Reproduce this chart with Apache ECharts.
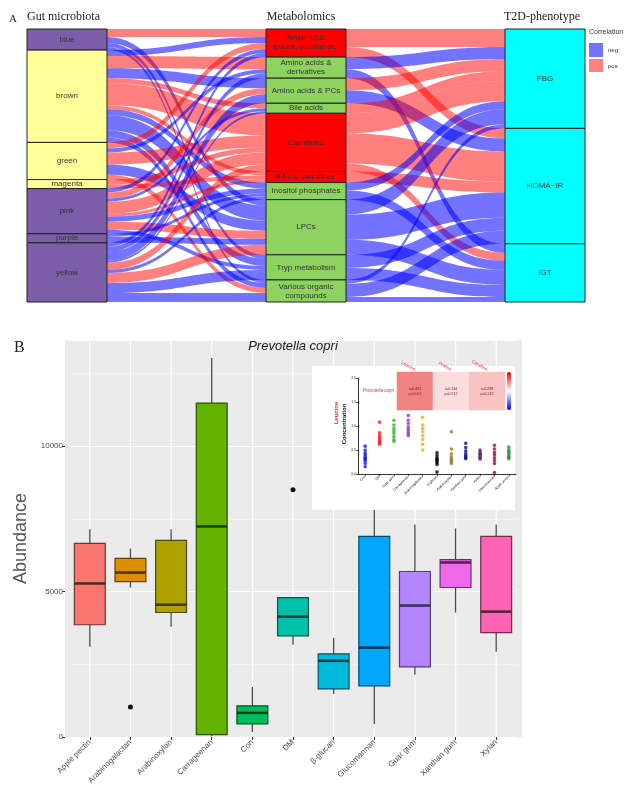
<!DOCTYPE html>
<html><head><meta charset="utf-8">
<script src="https://cdn.jsdelivr.net/npm/echarts@6.0.0/dist/echarts.min.js"></script>
<style>html,body{margin:0;padding:0;background:#fff}#c{width:632px;height:794px}</style>
</head><body><div id="c"></div>
<script>
// ---------- Panel A data (alluvial) ----------
const microbiotaModules = ['blue','brown','green','magenta','pink','purple','yellow'];
const moduleIsPurple = [1,0,0,0,1,1,1];
const metaboliteClasses = ['Amino acids\nleucine, citrulline etc.','Amino acids &\nderivatives','Amino acids & PCs','Bile acids','Carnitines','FAs & carnitines','Inositol phosphates','LPCs','Tryp metabolism','Various organic\ncompounds'];
const metaboliteIsRed = [1,0,0,0,1,1,0,0,0,0];
const phenotypes = ['FBG','HOMA\u2212IR','IGT'];
// [module, metabolite class, weight, correlation]
const microbeMetaboliteLinks = [
 [0,0,8,'pos'],[0,7,6,'neg'],[0,8,4,'neg'],[0,9,3,'neg'],
 [1,0,6,'neg'],[1,1,12,'pos'],[1,2,10,'neg'],[1,3,5,'pos'],[1,4,22,'pos'],[1,5,4,'pos'],[1,6,6,'neg'],[1,7,15,'neg'],[1,8,7,'neg'],[1,9,5,'neg'],
 [2,0,6,'pos'],[2,1,4,'neg'],[2,4,12,'pos'],[2,7,10,'neg'],[2,9,5,'pos'],
 [3,4,5,'pos'],[3,5,4,'pos'],
 [4,0,4,'neg'],[4,2,6,'pos'],[4,3,3,'neg'],[4,4,12,'pos'],[4,5,3,'pos'],[4,6,5,'neg'],[4,7,8,'pos'],[4,8,4,'neg'],
 [5,6,3,'neg'],[5,7,6,'neg'],
 [6,0,4,'neg'],[6,1,5,'neg'],[6,2,9,'neg'],[6,3,2,'neg'],[6,4,7,'pos'],[6,6,3,'neg'],[6,7,10,'pos'],[6,8,10,'neg'],[6,9,9,'neg']
];
// [metabolite class, phenotype, weight, correlation]
const metabolitePhenotypeLinks = [
 [0,0,18,'pos'],[0,1,10,'pos'],
 [1,0,12,'neg'],[1,2,9,'neg'],
 [2,0,12,'pos'],[2,1,13,'neg'],
 [3,0,10,'pos'],
 [4,0,20,'pos'],[4,1,30,'pos'],[4,2,8,'pos'],
 [5,1,11,'pos'],
 [6,0,8,'neg'],[6,2,9,'neg'],
 [7,0,15,'neg'],[7,1,25,'neg'],[7,2,15,'neg'],
 [8,1,13,'neg'],[8,2,12,'neg'],
 [9,0,4,'neg'],[9,1,13,'neg'],[9,2,5,'neg']
];

// ---------- Panel B data (box plot) ----------
const fiberGroups = ['Apple pectin','Arabinogalactan','Arabinoxylan','Carrageenan','Con','DM','\u03b2-glucan','Glucomannan','Guar gum','Xanthan gum','Xylan'];
const fiberColors = ['#F8766D','#DB8E00','#AEA200','#64B200','#00BD5C','#00C1A7','#00BADE','#00A6FF','#B385FF','#EF67EB','#FF63B6'];
const whiskerLow  = [3100, 5140, 3790,    30,  170, 3170, 1480,  450, 2140, 4280, 2930];
const quartile1   = [3860, 5345, 4280,    80,  450, 3480, 1655, 1760, 2410, 5140, 3590];
const medians     = [5280, 5655, 4550,  7240,  830, 4140, 2620, 3070, 4520, 6000, 4310];
const quartile3   = [6660, 6140, 6760, 11480, 1070, 4790, 2860, 6900, 5690, 6100, 6900];
const whiskerHigh = [7140, 6480, 7140, 13030, 1720, 4790, 3410, 8700, 7310, 7170, 7310];
const outlierGroup = [1, 5];
const outlierValue = [1030, 8500];
const starGroup = [4, 6];
const starValue = [2040, 3720];
const starText = ['**', '*'];
const yTicksB = [0, 5000, 10000];

// ---------- Inset data ----------
const heatMetabolites = ['Leucine','Proline','Citrulline'];
const heatR = [0.491, 0.134, 0.238];
const heatP = [0.007, 0.512, 0.242];
const insetGroups = ['Con','DM','Guar gum','Carrageenan','Arabinogalactan','\u03b2-glucan','Arabinoxylan','Xanthan gum','Xylan','Glucomannan','Apple pectin'];
const insetColors = ['#1A1AE6','#FF1A1A','#2DB82D','#9B30D0','#F5A623','#000000','#9C7C2A','#0A0A8C','#6A1A6A','#A0102A','#1E8C3A'];
const leucineByGroup = [
 [0.58,0.5,0.44,0.4,0.36,0.33,0.3,0.27,0.22,0.15],
 [1.08,0.86,0.8,0.76,0.72,0.68,0.65,0.62],
 [1.12,1.02,0.95,0.9,0.85,0.78,0.72,0.68],
 [1.22,1.12,1.05,0.98,0.93,0.88,0.84,0.8],
 [1.18,1.02,0.95,0.88,0.8,0.72,0.62,0.5],
 [0.44,0.38,0.33,0.3,0.27,0.24,0.2,0.04],
 [0.88,0.52,0.42,0.36,0.32,0.28,0.25,0.22],
 [0.64,0.55,0.48,0.42,0.38,0.35,0.32],
 [0.5,0.46,0.42,0.4,0.37,0.34,0.31],
 [0.6,0.52,0.45,0.4,0.34,0.28,0.22,0.03],
 [0.56,0.5,0.46,0.42,0.38,0.35,0.32]
];
const insetStarText = ['***','**','','','','***','*','*','***','***','*'];
const insetStarValue = [0.73,1.16,0,0,0,0.62,1.0,0.77,0.6,0.7,0.82];

// ---------- build ----------
const chart = echarts.init(document.getElementById('c'));
const SERIF = 'Liberation Serif', SANS = 'Liberation Sans';
const shade = (hex, f) => { const c = echarts.color.parse(hex); return 'rgb(' + Math.round(c[0] * f) + ',' + Math.round(c[1] * f) + ',' + Math.round(c[2] * f) + ')'; };
const linkStyle = s => ({color: s === 'neg' ? '#0000FF' : '#FF0000', opacity: s === 'neg' ? 0.55 : 0.5});
const sankeyNodes = [];
microbiotaModules.forEach((n, i) => sankeyNodes.push({name: n, itemStyle: {color: moduleIsPurple[i] ? '#7B5EA7' : '#FFFF99'}}));
metaboliteClasses.forEach((n, i) => sankeyNodes.push({name: n, itemStyle: {color: metaboliteIsRed[i] ? '#FF0000' : '#8ED35F'},
  label: i === 0 ? {fontSize: 7} : undefined}));
phenotypes.forEach(n => sankeyNodes.push({name: n, itemStyle: {color: '#00FFFF'}}));
const sankeyLinks = microbeMetaboliteLinks.map(l => ({source: microbiotaModules[l[0]], target: metaboliteClasses[l[1]], value: l[2], lineStyle: linkStyle(l[3])}))
  .concat(metabolitePhenotypeLinks.map(l => ({source: metaboliteClasses[l[0]], target: phenotypes[l[1]], value: l[2], lineStyle: linkStyle(l[3])})));

const boxData = fiberGroups.map((g, i) => [i, whiskerLow[i], quartile1[i], medians[i], quartile3[i], whiskerHigh[i]]);

const insetPoints = [];
leucineByGroup.forEach((arr, g) => arr.forEach(v => insetPoints.push({value: [g, v], itemStyle: {color: insetColors[g]}})));
const insetStars = [];
insetStarText.forEach((t, g) => { if (t) insetStars.push({value: [g, insetStarValue[g]], label: {formatter: t, color: insetColors[g]}}); });

const option = {
  animation: false,
  textStyle: {fontFamily: SANS},
  grid: [
    {left: 69.5, top: 340, width: 447, height: 397, outerBoundsMode: 'none'},
    {left: 358, top: 378, width: 158, height: 96, outerBoundsMode: 'none'},
    {left: 397, top: 372, width: 108, height: 38, outerBoundsMode: 'none'}
  ],
  xAxis: [
    {gridIndex: 0, type: 'category', data: fiberGroups, boundaryGap: true,
     axisLine: {show: false}, axisTick: {show: true, alignWithLabel: true, length: 3, lineStyle: {color: '#333'}},
     axisLabel: {rotate: 45, fontSize: 8, color: '#4D4D4D', margin: 4, interval: 0},
     splitLine: {show: false}},
    {gridIndex: 1, type: 'category', data: insetGroups, boundaryGap: true, z: 5,
     axisLine: {show: true, lineStyle: {color: '#000', width: 0.8}},
     axisTick: {show: true, alignWithLabel: true, length: 2, lineStyle: {color: '#000', width: 0.6}},
     axisLabel: {rotate: 45, fontSize: 3.5, color: '#222', margin: 2, interval: 0}},
    {gridIndex: 2, type: 'category', data: heatMetabolites, position: 'top', z: 5,
     axisLine: {show: false}, axisTick: {show: false},
     axisLabel: {rotate: 30, fontSize: 4.5, color: '#E03030', margin: 2}}
  ],
  yAxis: [
    {gridIndex: 0, type: 'value', min: 0, max: 13650, interval: 5000, offset: 4.5,
     name: 'Abundance', nameLocation: 'middle', nameGap: 34, nameTextStyle: {fontSize: 18, color: '#555'},
     axisLine: {show: false}, axisTick: {show: true, length: 3, lineStyle: {color: '#333'}},
     axisLabel: {fontSize: 8, color: '#4D4D4D', margin: 2, showMaxLabel: false,
       formatter: v => yTicksB.indexOf(v) >= 0 ? String(v) : ''},
     splitLine: {show: true, lineStyle: {color: '#FFFFFF', width: 1.2}},
     minorTick: {show: false, splitNumber: 2},
     minorSplitLine: {show: true, lineStyle: {color: '#F7F7F7', width: 0.6}}},
    {gridIndex: 1, type: 'value', min: 0, max: 2, interval: 0.5, z: 5,
     axisLine: {show: true, lineStyle: {color: '#000', width: 0.8}},
     axisTick: {show: true, length: 2, lineStyle: {color: '#000', width: 0.6}},
     axisLabel: {fontSize: 3.5, color: '#222', margin: 2, formatter: v => v.toFixed(1)},
     splitLine: {show: false}},
    {gridIndex: 2, type: 'category', data: ['Prevotella copri'], z: 5,
     axisLine: {show: false}, axisTick: {show: false},
     axisLabel: {fontSize: 4.5, color: '#E03030', margin: 3}}
  ],
  visualMap: {type: 'continuous', seriesIndex: 6, dimension: 2, min: -1, max: 1,
    inRange: {color: ['#0000FF', '#FFFFFF', '#E00000']},
    left: 507, top: 372, itemWidth: 4, itemHeight: 38, padding: 0, calculable: false, show: true, z: 6},
  series: [
    {type: 'sankey', left: 27, top: 29, width: 558, height: 273, nodeWidth: 80, nodeGap: 0,
     layoutIterations: 0, draggable: false, nodeAlign: 'justify',
     emphasis: {disabled: true},
     itemStyle: {borderColor: '#222', borderWidth: 1},
     lineStyle: {curveness: 0.5},
     label: {position: 'inside', fontSize: 8, color: '#333', fontFamily: SANS, lineHeight: 9},
     data: sankeyNodes, links: sankeyLinks},
    {type: 'custom', xAxisIndex: 0, yAxisIndex: 0, z: 2, data: boxData,
     encode: {x: 0, y: [1, 2, 3, 4, 5]},
     renderItem: function (params, api) {
       const i = api.value(0);
       const cs = params.coordSys;
       const lo = api.coord([i, api.value(1)]);
       const q1 = api.coord([i, api.value(2)]);
       const md = api.coord([i, api.value(3)]);
       const q3 = api.coord([i, api.value(4)]);
       const hi = api.coord([i, api.value(5)]);
       const cx = lo[0];
       const bw = api.size([1, 0])[0] * 0.76;
       const fill = fiberColors[params.dataIndex];
       return {type: 'group', children: [
         {type: 'line', shape: {x1: cx, y1: cs.y, x2: cx, y2: cs.y + cs.height}, style: {stroke: '#FFFFFF', lineWidth: 1.2}},
         {type: 'line', shape: {x1: cx, y1: hi[1], x2: cx, y2: lo[1]}, style: {stroke: '#4A4A4A', lineWidth: 1.3}},
         {type: 'rect', shape: {x: cx - bw / 2, y: q3[1], width: bw, height: q1[1] - q3[1]}, style: {fill: fill, stroke: shade(fill, 0.45), lineWidth: 1.2}},
         {type: 'line', shape: {x1: cx - bw / 2, y1: md[1], x2: cx + bw / 2, y2: md[1]}, style: {stroke: shade(fill, 0.35), lineWidth: 2.6}}
       ]};
     }},
    {type: 'scatter', xAxisIndex: 0, yAxisIndex: 0, z: 2, symbolSize: 5, itemStyle: {color: '#111', opacity: 1},
     data: outlierGroup.map((g, k) => [g, outlierValue[k]])},
    {type: 'scatter', xAxisIndex: 0, yAxisIndex: 0, z: 2, symbolSize: 0.1, itemStyle: {opacity: 0},
     label: {show: true, position: 'inside', color: '#E8485A', fontSize: 15, formatter: p => starText[p.dataIndex]},
     data: starGroup.map((g, k) => [g, starValue[k]])},
    {type: 'scatter', xAxisIndex: 1, yAxisIndex: 1, z: 6, symbolSize: 3.6, data: insetPoints},
    {type: 'scatter', xAxisIndex: 1, yAxisIndex: 1, z: 6, symbolSize: 0.1, itemStyle: {opacity: 0},
     label: {show: true, position: 'top', distance: 1, fontSize: 5}, data: insetStars},
    {type: 'heatmap', xAxisIndex: 2, yAxisIndex: 2, z: 6,
     data: heatR.map((r, k) => [k, 0, r]),
     label: {show: true, fontSize: 3.6, color: '#7A1A1A', lineHeight: 5,
       formatter: p => 'r=' + heatR[p.dataIndex].toFixed(3) + '\np=' + heatP[p.dataIndex].toFixed(3)}}
  ],
  graphic: [
    {type: 'text', x: 9, y: 14, style: {text: 'A', font: '11px ' + SERIF, fill: '#222'}},
    {type: 'text', x: 27, y: 11, style: {text: 'Gut microbiota', font: '12px ' + SERIF, fill: '#222'}},
    {type: 'text', x: 301, y: 11, style: {text: 'Metabolomics', font: '12px ' + SERIF, fill: '#222', textAlign: 'center'}},
    {type: 'text', x: 542, y: 11, style: {text: 'T2D-phenotype', font: '12px ' + SERIF, fill: '#222', textAlign: 'center'}},
    {type: 'text', x: 589, y: 29, style: {text: 'Correlation', font: '7px ' + SANS, fill: '#333'}},
    {type: 'rect', shape: {x: 589, y: 43, width: 14, height: 14}, style: {fill: '#7373FF'}},
    {type: 'rect', shape: {x: 589, y: 59, width: 14, height: 13}, style: {fill: '#FF8080'}},
    {type: 'text', x: 608, y: 47, style: {text: 'neg', font: '6px ' + SANS, fill: '#333'}},
    {type: 'text', x: 608, y: 63, style: {text: 'pos', font: '6px ' + SANS, fill: '#333'}},
    {type: 'text', x: 14, y: 340, style: {text: 'B', font: '16px ' + SERIF, fill: '#222'}},
    {type: 'rect', z: -10, shape: {x: 65, y: 340, width: 457, height: 398}, style: {fill: '#EBEBEB'}},
    {type: 'text', z: 3, x: 293, y: 340, style: {text: 'Prevotella copri', font: 'italic 13px ' + SANS, fill: '#1A1A1A', textAlign: 'center'}},
    {type: 'rect', z: 3, shape: {x: 312, y: 366, width: 203, height: 144}, style: {fill: '#FFFFFF'}},
    {type: 'text', z: 7, x: 336, y: 413, rotation: Math.PI / 2, style: {text: 'Leucine', font: 'bold 6px ' + SANS, fill: '#E03030', textAlign: 'center', textVerticalAlign: 'middle'}},
    {type: 'text', z: 7, x: 344, y: 424, rotation: Math.PI / 2, style: {text: 'Concentration', font: 'bold 6px ' + SANS, fill: '#111', textAlign: 'center', textVerticalAlign: 'middle'}}
  ]
};
chart.setOption(option);
</script>
</body></html>
